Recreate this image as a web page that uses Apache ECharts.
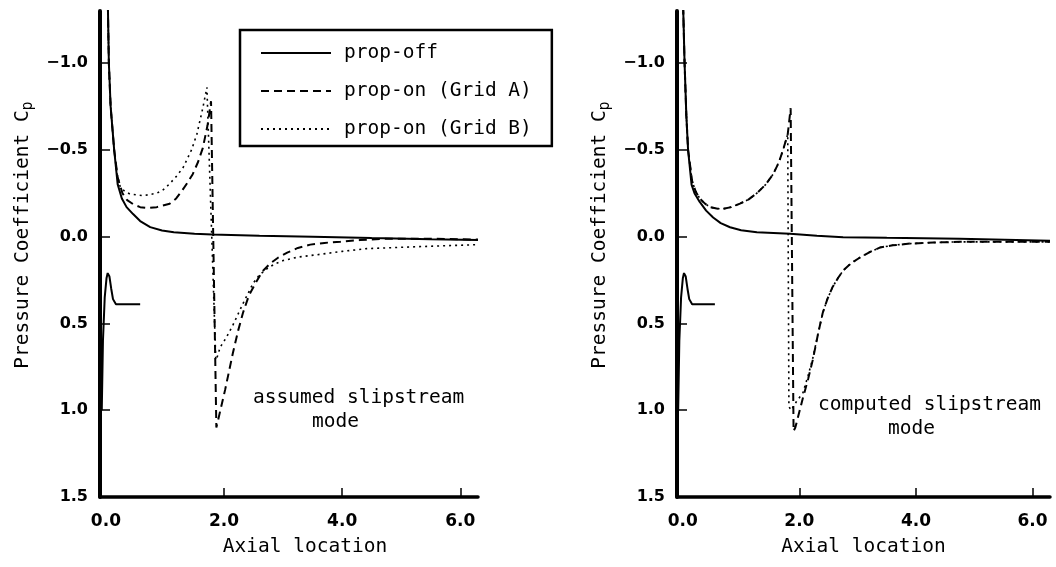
<!DOCTYPE html>
<html>
<head>
<meta charset="utf-8">
<title>Pressure coefficient, prop-off / prop-on</title>
<script src="https://cdn.jsdelivr.net/npm/echarts@6/dist/echarts.min.js"></script>
<style>
  html, body { margin: 0; padding: 0; background: #fff; }
  #chart { width: 1056px; height: 567px; }
</style>
</head>
<body>
<div id="chart"></div>
<script>
// data: [axial location, Cp]
// left panel - assumed slipstream mode
const leftOffUpper = [[0.03, -1.4], [0.05, -1.0], [0.08, -0.75], [0.14, -0.5], [0.2, -0.3], [0.27, -0.22],
  [0.35, -0.17], [0.46, -0.13], [0.58, -0.09], [0.75, -0.055], [0.95, -0.035], [1.15, -0.025], [1.5, -0.016],
  [1.8, -0.012], [2.6, -0.005], [3.5, 0.0], [4.5, 0.008], [5.5, 0.015], [6.3, 0.02]];
const leftOffLower = [[-0.07, 1.0], [-0.05, 0.6], [-0.02, 0.35], [0.01, 0.24], [0.03, 0.21], [0.06, 0.23],
  [0.09, 0.3], [0.12, 0.36], [0.17, 0.39], [0.3, 0.39], [0.58, 0.39]];
const leftGridA = [[0.03, -1.4], [0.05, -1.0], [0.08, -0.75], [0.14, -0.5], [0.2, -0.34], [0.28, -0.25],
  [0.36, -0.21], [0.47, -0.185], [0.58, -0.17], [0.72, -0.165], [0.86, -0.17], [1.08, -0.19], [1.19, -0.22],
  [1.29, -0.265], [1.38, -0.31], [1.47, -0.36], [1.56, -0.43], [1.64, -0.51], [1.72, -0.64], [1.78, -0.78],
  [1.87, 1.1], [1.9, 1.1], [2.02, 0.88], [2.15, 0.67], [2.24, 0.54], [2.32, 0.44], [2.42, 0.34], [2.53, 0.27],
  [2.65, 0.2], [2.78, 0.155], [2.92, 0.12], [3.07, 0.092], [3.25, 0.065], [3.46, 0.046], [3.7, 0.036],
  [3.97, 0.029], [4.3, 0.02], [4.69, 0.012], [5.54, 0.012], [6.3, 0.017]];
const leftGridB = [[0.03, -1.4], [0.05, -1.0], [0.08, -0.75], [0.14, -0.5], [0.19, -0.36], [0.24, -0.29],
  [0.32, -0.26], [0.41, -0.245], [0.63, -0.236], [0.86, -0.25], [0.97, -0.27], [1.08, -0.305], [1.2, -0.35],
  [1.31, -0.4], [1.45, -0.5], [1.54, -0.59], [1.64, -0.74], [1.71, -0.86], [1.86, 0.71], [1.9, 0.68],
  [1.93, 0.64], [2.04, 0.58], [2.15, 0.51], [2.32, 0.386], [2.49, 0.27], [2.6, 0.22], [2.73, 0.184],
  [2.86, 0.157], [3.0, 0.138], [3.25, 0.118], [3.58, 0.104], [4.0, 0.085], [4.42, 0.069], [5.27, 0.058],
  [6.3, 0.046]];

// right panel - computed slipstream mode
const rightOffUpper = [[0.0, -1.4], [0.03, -1.0], [0.06, -0.7], [0.09, -0.5], [0.15, -0.3], [0.2, -0.25],
  [0.29, -0.2], [0.4, -0.15], [0.52, -0.11], [0.65, -0.078], [0.81, -0.054], [1.0, -0.037], [1.27, -0.025],
  [1.84, -0.017], [2.3, -0.005], [2.75, 0.003], [3.5, 0.007], [4.75, 0.012], [6.3, 0.023]];
const rightOffLower = [[-0.08, 1.0], [-0.06, 0.6], [-0.03, 0.35], [0.0, 0.24], [0.02, 0.21], [0.05, 0.23],
  [0.08, 0.3], [0.11, 0.36], [0.16, 0.39], [0.3, 0.39], [0.55, 0.39]];
const rightGridA = [[0.0, -1.4], [0.03, -1.0], [0.06, -0.7], [0.09, -0.5], [0.16, -0.32], [0.22, -0.26],
  [0.29, -0.22], [0.38, -0.19], [0.47, -0.17], [0.58, -0.162], [0.69, -0.16], [0.83, -0.17], [0.98, -0.19],
  [1.13, -0.215], [1.27, -0.25], [1.42, -0.3], [1.55, -0.36], [1.65, -0.43], [1.72, -0.5], [1.8, -0.59],
  [1.85, -0.74], [1.9, 1.12], [1.93, 1.1], [2.06, 0.93], [2.15, 0.82], [2.23, 0.71], [2.32, 0.56],
  [2.4, 0.44], [2.48, 0.36], [2.57, 0.29], [2.66, 0.24], [2.75, 0.195], [2.9, 0.15], [3.04, 0.12],
  [3.2, 0.09], [3.38, 0.063], [3.6, 0.05], [3.9, 0.04], [4.3, 0.034], [4.75, 0.03], [6.3, 0.03]];
const rightGridB = [[0.0, -1.4], [0.03, -1.0], [0.06, -0.7], [0.09, -0.5], [0.16, -0.32], [0.22, -0.26],
  [0.29, -0.22], [0.38, -0.19], [0.47, -0.17], [0.58, -0.162], [0.69, -0.16], [0.83, -0.17], [0.98, -0.19],
  [1.13, -0.215], [1.27, -0.25], [1.42, -0.3], [1.55, -0.36], [1.65, -0.43], [1.72, -0.5], [1.8, -0.59],
  [1.82, 0.98], [1.86, 1.0], [1.95, 0.95], [2.06, 0.9], [2.15, 0.8], [2.23, 0.7], [2.32, 0.56], [2.4, 0.44],
  [2.48, 0.36], [2.57, 0.29], [2.66, 0.24], [2.75, 0.195], [2.9, 0.15], [3.04, 0.12], [3.2, 0.09],
  [3.38, 0.063], [3.6, 0.05], [3.9, 0.04], [4.3, 0.034], [4.75, 0.03], [6.3, 0.03]];

const seriesNames = ['prop-off', 'prop-on (Grid A)', 'prop-on (Grid B)'];
const xTicks = [0, 2, 4, 6];
const yTicks = [-1.0, -0.5, 0.0, 0.5, 1.0, 1.5];

const mono = 'DejaVu Sans Mono';
const sans = 'DejaVu Sans';
const monoFont = '19.5px "DejaVu Sans Mono"';

const chart = echarts.init(document.getElementById('chart'), null, { renderer: 'canvas' });

function xAxisFor(grid, shift) {
  return {
    type: 'value',
    gridIndex: grid,
    min: -0.1,
    max: 6.3,
    name: 'Axial location',
    nameLocation: 'middle',
    nameGap: 40,
    nameTextStyle: { fontFamily: mono, fontSize: 19.5, color: '#000', padding: [0, 0, 0, shift] },
    axisLine: { show: true, onZero: false, lineStyle: { color: '#000', width: 3.5 } },
    axisTick: { show: true, inside: true, length: 9, customValues: [2, 4, 6], lineStyle: { color: '#000', width: 1.5 } },
    axisLabel: {
      customValues: xTicks,
      margin: 16,
      fontFamily: sans,
      fontWeight: 'bold',
      fontSize: 17,
      color: '#000',
      formatter: function (v) { return v.toFixed(1); }
    },
    splitLine: { show: false }
  };
}

function yAxisFor(grid) {
  return {
    type: 'value',
    gridIndex: grid,
    inverse: true,
    min: -1.3,
    max: 1.5,
    name: 'Pressure Coefficient C{sub|p}',
    nameLocation: 'middle',
    nameGap: 64,
    nameTextStyle: {
      fontFamily: mono,
      fontSize: 19.5,
      color: '#000',
      padding: [0, 0, 0, 38],
      rich: {
        sub: { fontFamily: mono, fontSize: 15, color: '#000', verticalAlign: 'bottom', padding: [12, 0, 0, 0] }
      }
    },
    axisLine: { show: true, onZero: false, lineStyle: { color: '#000', width: 4 } },
    axisTick: { show: true, inside: true, length: 10, customValues: yTicks, lineStyle: { color: '#000', width: 1.5 } },
    axisLabel: {
      customValues: yTicks,
      margin: 12,
      fontFamily: sans,
      fontWeight: 'bold',
      fontSize: 16,
      color: '#000',
      formatter: function (v) { return v.toFixed(1).replace('-', '\u2212'); }
    },
    splitLine: { show: false }
  };
}

// one helper for all the curves, style by kind
function curve(name, data, idx, kind) {
  let ls = { color: '#000', width: 2, type: 'solid' };
  if (kind === 'dash') {
    ls = { color: '#000', width: 2, type: [8, 5] };
  } else if (kind === 'dot') {
    ls = { color: '#000', width: 1.6, type: [2, 4] };
  }
  return {
    name: name,
    type: 'line',
    xAxisIndex: idx,
    yAxisIndex: idx,
    data: data,
    symbol: 'none',
    showSymbol: false,
    lineStyle: ls,
    itemStyle: { color: '#000' },
    clip: true
  };
}

var option = {
  animation: false,
  backgroundColor: '#fff',
  grid: [
    { left: 100, top: 11, width: 378, height: 486 },
    { left: 677, top: 11, width: 373, height: 486 }
  ],
  xAxis: [xAxisFor(0, 32), xAxisFor(1, 0)],
  yAxis: [yAxisFor(0), yAxisFor(1)],
  legend: {
    data: seriesNames,
    orient: 'vertical',
    left: 240,
    top: 30,
    itemWidth: 70,
    itemHeight: 14,
    itemGap: 18,
    padding: [13, 20, 7, 20],
    borderColor: '#000',
    borderWidth: 2.5,
    backgroundColor: '#fff',
    selectedMode: false,
    itemStyle: { opacity: 0 },
    textStyle: { fontFamily: mono, fontSize: 19.5, color: '#000', padding: [0, 0, 0, 8] }
  },
  series: [
    curve(seriesNames[0], leftOffUpper, 0, 'solid'),
    curve(seriesNames[0], leftOffLower, 0, 'solid'),
    curve(seriesNames[1], leftGridA, 0, 'dash'),
    curve(seriesNames[2], leftGridB, 0, 'dot'),
    curve(seriesNames[0], rightOffUpper, 1, 'solid'),
    curve(seriesNames[0], rightOffLower, 1, 'solid'),
    curve(seriesNames[1], rightGridA, 1, 'dash'),
    curve(seriesNames[2], rightGridB, 1, 'dot')
  ],
  // the two panel notes
  graphic: [
    { type: 'text', left: 253, top: 388, style: { text: 'assumed slipstream', font: monoFont, fill: '#000' } },
    { type: 'text', left: 312, top: 412, style: { text: 'mode', font: monoFont, fill: '#000' } },
    { type: 'text', left: 818, top: 395, style: { text: 'computed slipstream', font: monoFont, fill: '#000' } },
    { type: 'text', left: 888, top: 419, style: { text: 'mode', font: monoFont, fill: '#000' } }
  ]
};

chart.setOption(option);
</script>
</body>
</html>
